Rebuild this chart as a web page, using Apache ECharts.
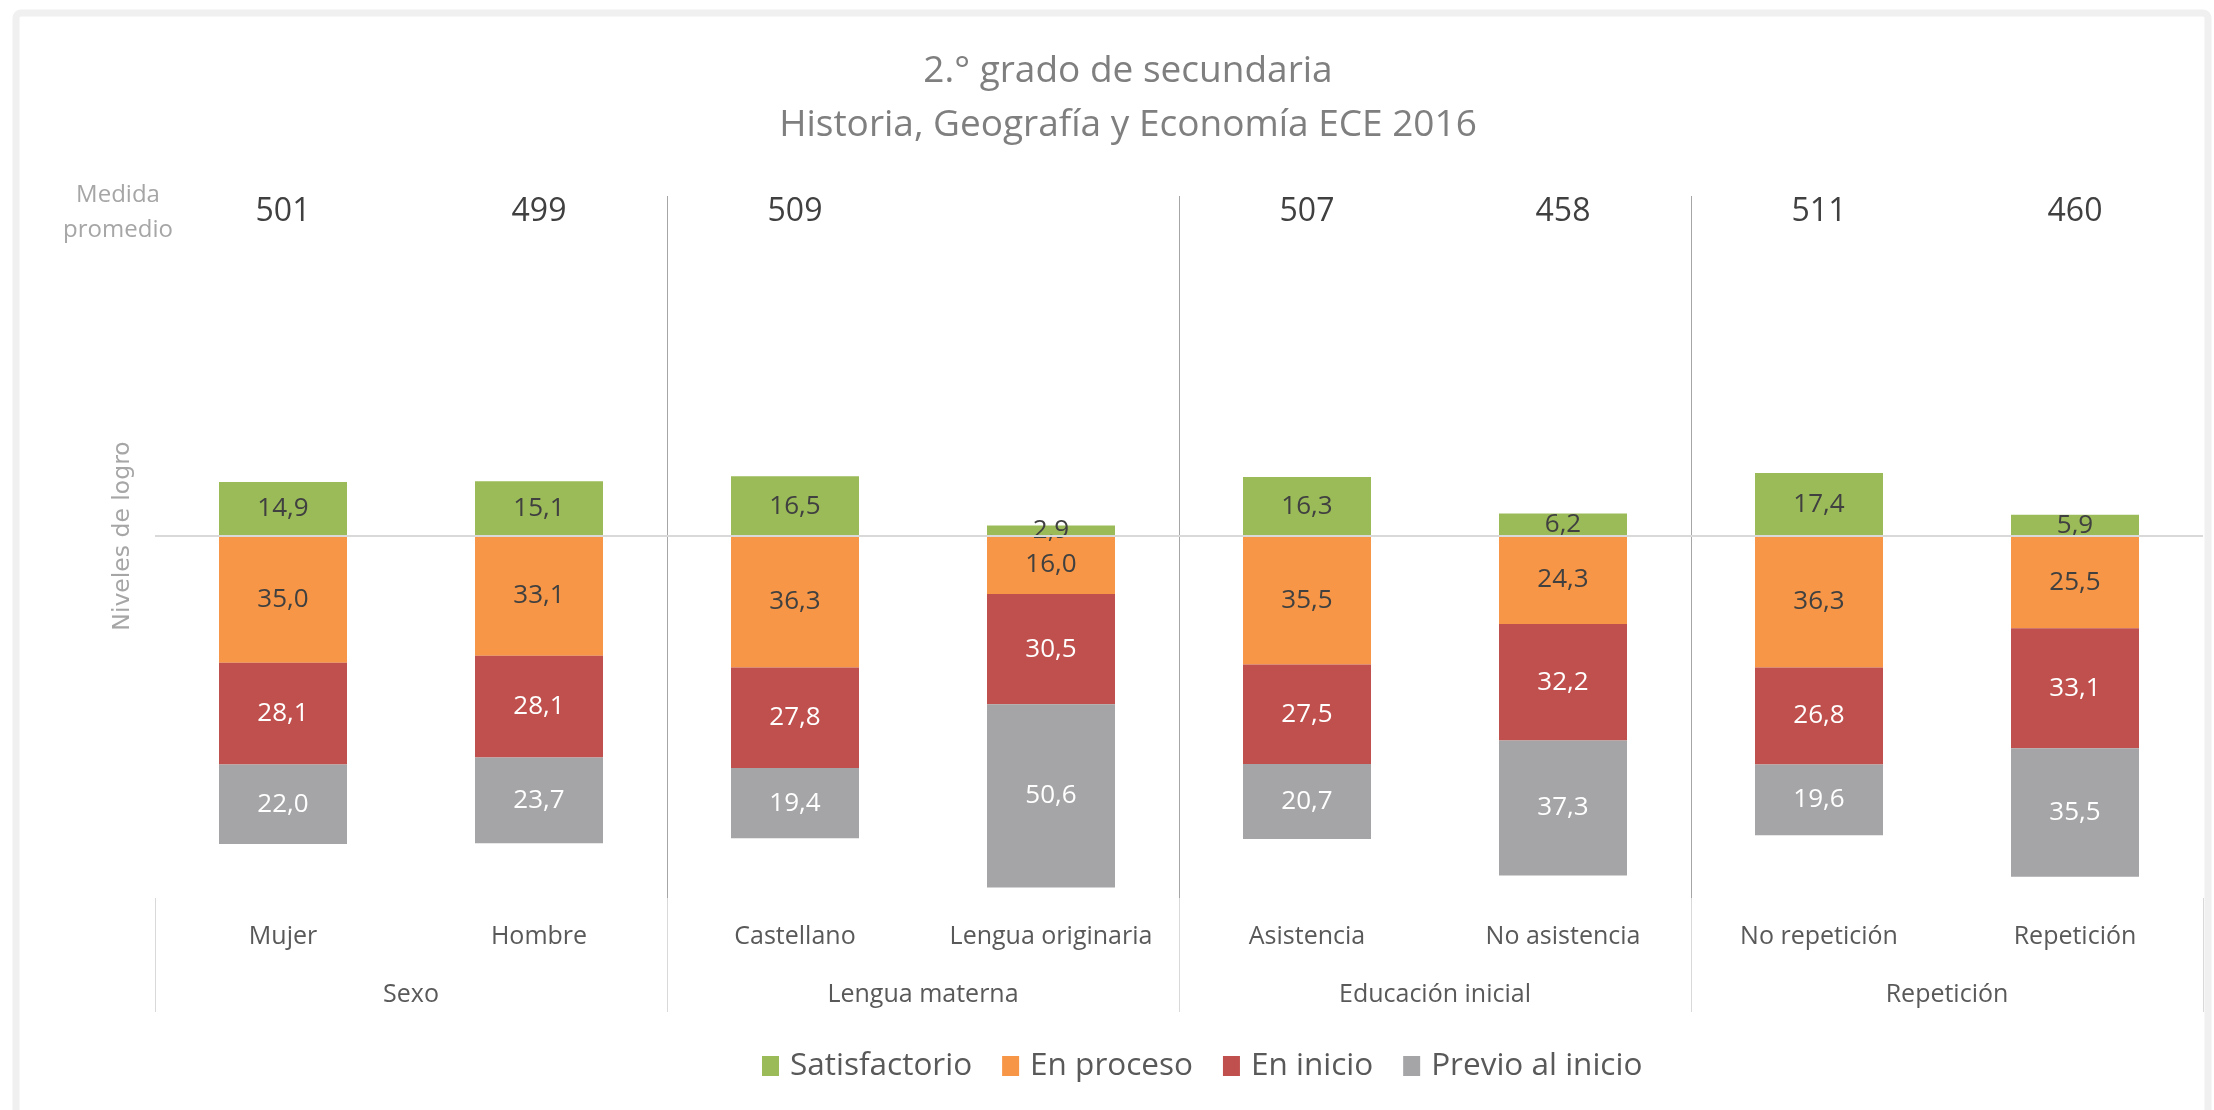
<!DOCTYPE html>
<html>
<head>
<meta charset="utf-8">
<script src="https://cdn.jsdelivr.net/npm/echarts@6/dist/echarts.min.js"></script>
<style>
  html, body { margin: 0; padding: 0; background: #ffffff; }
  #chart { width: 2214px; height: 1110px; }
</style>
</head>
<body>
<div id="chart"></div>
<script>
// Categories, grouped two per factor
const categories = ['Mujer', 'Hombre', 'Castellano', 'Lengua originaria', 'Asistencia', 'No asistencia', 'No repetición', 'Repetición'];
const groups = ['Sexo', 'Lengua materna', 'Educación inicial', 'Repetición'];

// Average measure per category (no value published for Lengua originaria)
const scores = [501, 499, 509, null, 507, 458, 511, 460];

// Percentage of students per achievement level
const satisfactorio = [14.9, 15.1, 16.5, 2.9, 16.3, 6.2, 17.4, 5.9];
const enProceso     = [35.0, 33.1, 36.3, 16.0, 35.5, 24.3, 36.3, 25.5];
const enInicio      = [28.1, 28.1, 27.8, 30.5, 27.5, 32.2, 26.8, 33.1];
const previoInicio  = [22.0, 23.7, 19.4, 50.6, 20.7, 37.3, 19.6, 35.5];

const FONT = '"Open Sans", "Noto Sans", sans-serif';
const fmt = p => Math.abs(p.value).toFixed(1).replace('.', ',');

function levelSeries(name, values, color, labelColor, below) {
  return {
    name: name,
    type: 'bar',
    stack: 'niveles',
    barWidth: '50%',
    xAxisIndex: 0,
    yAxisIndex: 0,
    itemStyle: { color: color },
    label: {
      show: true,
      position: 'inside',
      formatter: fmt,
      color: labelColor,
      fontFamily: FONT,
      fontSize: 26
    },
    data: below ? values.map(v => -v) : values.slice()
  };
}

const chart = echarts.init(document.getElementById('chart'));

const series = [
  levelSeries('Satisfactorio', satisfactorio, '#9bbb59', '#404040', false),
  levelSeries('En proceso', enProceso, '#f79646', '#404040', true),
  levelSeries('En inicio', enInicio, '#c0504d', '#ffffff', true),
  levelSeries('Previo al inicio', previoInicio, '#a5a5a7', '#ffffff', true)
];
// zero line across the plot
series[0].markLine = {
  silent: true,
  symbol: 'none',
  label: { show: false },
  lineStyle: { color: '#d9d9d9', width: 2, type: 'solid' },
  data: [{ yAxis: 0 }],
  z: 5
};

chart.setOption({
  animation: false,
  textStyle: { fontFamily: FONT },
  title: {
    text: '2.° grado de secundaria\nHistoria, Geografía y Economía ECE 2016',
    left: 1123,
    top: 39,
    textAlign: 'center',
    textStyle: {
      fontFamily: FONT,
      fontSize: 37,
      fontWeight: 'normal',
      color: '#7f7f7f',
      lineHeight: 54
    }
  },
  legend: {
    data: ['Satisfactorio', 'En proceso', 'En inicio', 'Previo al inicio'],
    left: 757,
    top: 1045,
    icon: 'rect',
    itemWidth: 17,
    itemHeight: 20,
    itemGap: 30,
    textStyle: { fontFamily: FONT, fontSize: 31.5, color: '#595959', padding: [0, 0, 0, 6] }
  },
  grid: { left: 155, top: 174, width: 2048, height: 724 },
  xAxis: [
    {
      type: 'category',
      data: categories,
      position: 'bottom',
      axisLine: { show: false },
      axisTick: { show: false },
      axisLabel: { interval: 0, margin: 26, fontFamily: FONT, fontSize: 25, color: '#595959' }
    },
    {
      type: 'category',
      data: groups,
      position: 'bottom',
      axisLine: { show: false },
      axisTick: { show: true, length: 114, lineStyle: { color: '#d9d9d9', width: 1 } },
      axisLabel: { interval: 0, margin: 84, fontFamily: FONT, fontSize: 25, color: '#595959' }
    },
    {
      type: 'category',
      data: categories,
      position: 'top',
      offset: -54,
      axisLine: { show: false },
      axisTick: { show: false },
      axisLabel: {
        interval: 0,
        margin: 0,
        fontFamily: FONT,
        fontSize: 32,
        color: '#404040',
        formatter: (v, i) => (scores[i] == null ? '' : String(scores[i]))
      }
    }
  ],
  yAxis: {
    type: 'value',
    min: -100,
    max: 100,
    name: 'Niveles de logro',
    nameLocation: 'middle',
    nameRotate: 90,
    nameGap: 20,
    nameTextStyle: { fontFamily: '"DejaVu Sans", sans-serif', fontSize: 23.5, color: '#a6a6a6' },
    axisLine: { show: false },
    axisTick: { show: false },
    axisLabel: { show: false },
    splitLine: { show: false }
  },
  series: series
});

// Group separators between factor pairs, placed from the category axis
const yBottom = chart.convertToPixel({ yAxisIndex: 0 }, -100);
const graphics = [
  {
    type: 'rect',
    silent: true,
    shape: { x: 16, y: 13, width: 2192, height: 1120, r: 5 },
    style: { fill: 'none', stroke: '#f0f0f0', lineWidth: 7 },
    z: -10
  },
  {
    type: 'text',
    silent: true,
    x: 118,
    y: 213,
    style: {
      text: 'Medida\npromedio',
      fontFamily: FONT,
      fontSize: 24,
      lineHeight: 35,
      fill: '#a6a6a6',
      align: 'center',
      verticalAlign: 'middle'
    }
  }
];
for (let i = 2; i < categories.length; i += 2) {
  const x = (chart.convertToPixel({ xAxisIndex: 0 }, categories[i - 1]) +
             chart.convertToPixel({ xAxisIndex: 0 }, categories[i])) / 2;
  graphics.push({
    type: 'line',
    silent: true,
    shape: { x1: Math.round(x) + 0.5, y1: 196, x2: Math.round(x) + 0.5, y2: yBottom },
    style: { stroke: '#a6a6a6', lineWidth: 1 },
    z: 1
  });
}
chart.setOption({ graphic: graphics });
</script>
</body>
</html>
